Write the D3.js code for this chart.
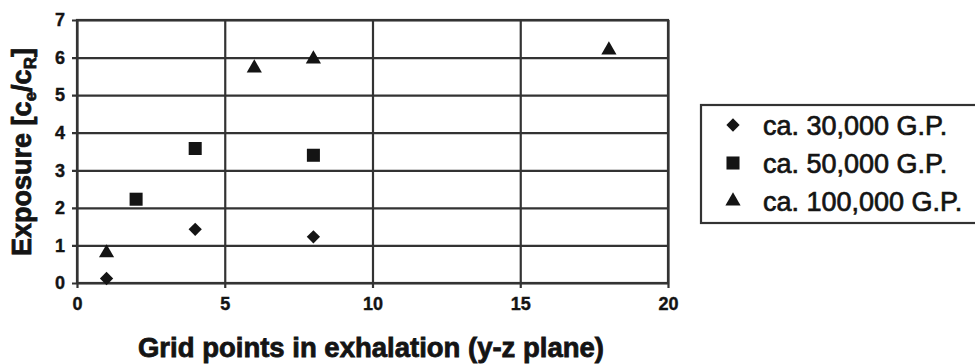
<!DOCTYPE html>
<html>
<head>
<meta charset="utf-8">
<script src="https://cdn.jsdelivr.net/npm/d3@7"></script>
<style>
  html, body { margin: 0; padding: 0; background: #fff; }
  svg { display: block; font-family: "Liberation Sans", Arial, sans-serif; }
</style>
</head>
<body>
<figure id="chart" style="margin:0"></figure>
<script>
// values
const xTicks = [0, 5, 10, 15, 20];
const yTicks = [0, 1, 2, 3, 4, 5, 6, 7];
const seriesNames = ['ca. 30,000 G.P.', 'ca. 50,000 G.P.', 'ca. 100,000 G.P.'];
const gp30x = [1, 4, 8];
const gp30y = [0.12, 1.43, 1.23];
const gp50x = [2, 4, 8];
const gp50y = [2.23, 3.58, 3.4];
const gp100x = [1, 6, 8, 18];
const gp100y = [0.8, 5.72, 5.96, 6.2];

const width = 975;
const height = 364;
const lineColor = '#333';
const inkColor = '#141414';

const series = [
  {name: seriesNames[0], xs: gp30x, ys: gp30y, shape: 'diamond'},
  {name: seriesNames[1], xs: gp50x, ys: gp50y, shape: 'square'},
  {name: seriesNames[2], xs: gp100x, ys: gp100y, shape: 'triangle'}
];

const x = d3.scaleLinear().domain([0, 20]).range([77, 668]);
const y = d3.scaleLinear().domain([0, 7]).range([283, 20]);

const svg = d3.select('figure#chart')
  .append('svg')
  .attr('width', width)
  .attr('height', height)
  .attr('viewBox', `0 0 ${width} ${height}`);

function symbolPath(shape) {
  if (shape === 'diamond') {
    return d3.symbol().type(d3.symbolSquare).size(88)();
  }
  if (shape === 'square') {
    return d3.symbol().type(d3.symbolSquare).size(170)();
  }
  return d3.symbol().type(d3.symbolTriangle).size(100)();
}

// horizontal grid lines + y axis
const yAxis = d3.axisLeft(y)
  .tickValues(yTicks)
  .tickSize(-(x.range()[1] - x.range()[0]))
  .tickPadding(12)
  .tickFormat(d3.format('d'));

svg.append('g')
  .attr('transform', `translate(${x.range()[0]},0)`)
  .call(yAxis)
  .call(g => g.select('.domain').remove())
  .call(g => g.selectAll('.tick line')
    .attr('x1', -5)
    .attr('stroke', lineColor)
    .attr('stroke-width', 2.2))
  .call(g => g.selectAll('.tick text')
    .attr('fill', inkColor)
    .attr('stroke', inkColor)
    .attr('stroke-width', 0.4)
    .attr('font-size', 18)
    .attr('font-weight', 'bold'));

// vertical grid lines + x axis
const xAxis = d3.axisBottom(x)
  .tickValues(xTicks)
  .tickSize(-(y.range()[0] - y.range()[1]))
  .tickPadding(14)
  .tickFormat(d3.format('d'));

svg.append('g')
  .attr('transform', `translate(0,${y.range()[0]})`)
  .call(xAxis)
  .call(g => g.select('.domain').remove())
  .call(g => g.selectAll('.tick line')
    .attr('y1', 5)
    .attr('stroke', lineColor)
    .attr('stroke-width', 2.2))
  .call(g => g.selectAll('.tick text')
    .attr('fill', inkColor)
    .attr('stroke', inkColor)
    .attr('stroke-width', 0.4)
    .attr('font-size', 18)
    .attr('font-weight', 'bold'));

// plot frame
svg.append('rect')
  .attr('x', x.range()[0])
  .attr('y', y.range()[1])
  .attr('width', x.range()[1] - x.range()[0])
  .attr('height', y.range()[0] - y.range()[1])
  .attr('fill', 'none')
  .attr('stroke', lineColor)
  .attr('stroke-width', 2.2);

// markers
series.forEach(s => {
  svg.append('g')
    .selectAll('path')
    .data(s.xs.map((v, i) => [v, s.ys[i]]))
    .enter().append('path')
    .attr('d', symbolPath(s.shape))
    .attr('fill', inkColor)
    .attr('transform', d => `translate(${x(d[0])},${y(d[1])})${s.shape === 'diamond' ? ' rotate(45)' : ''}`);
});

// axis titles
svg.append('text')
  .attr('x', 371)
  .attr('y', 357)
  .attr('text-anchor', 'middle')
  .attr('font-size', 27.5)
  .attr('font-weight', 'bold')
  .attr('fill', inkColor)
  .attr('stroke', inkColor)
  .attr('stroke-width', 0.8)
  .text('Grid points in exhalation (y-z plane)');

const yTitle = svg.append('text')
  .attr('transform', 'translate(31,152) rotate(-90)')
  .attr('text-anchor', 'middle')
  .attr('font-size', 27)
  .attr('font-weight', 'bold')
  .attr('fill', inkColor)
  .attr('stroke', inkColor)
  .attr('stroke-width', 0.8);
yTitle.append('tspan').text('Exposure [c');
yTitle.append('tspan').attr('font-size', 17).attr('dy', 5).text('e');
yTitle.append('tspan').attr('dy', -5).text('/c');
yTitle.append('tspan').attr('font-size', 17).attr('dy', 5).text('R');
yTitle.append('tspan').attr('dy', -5).text(']');

// legend
const legend = svg.append('g');
legend.append('rect')
  .attr('x', 701)
  .attr('y', 105)
  .attr('width', 290)
  .attr('height', 118)
  .attr('fill', '#fff')
  .attr('stroke', lineColor)
  .attr('stroke-width', 2.2);

const rows = legend.selectAll('.legend-row')
  .data(series)
  .enter().append('g')
  .attr('class', 'legend-row')
  .attr('transform', (d, i) => `translate(733,${125 + i * 38})`);

rows.append('path')
  .attr('d', d => symbolPath(d.shape))
  .attr('fill', inkColor)
  .attr('transform', d => d.shape === 'diamond' ? 'rotate(45)' : null);

rows.append('text')
  .attr('x', 30)
  .attr('y', 10)
  .attr('font-size', 27)
  .attr('fill', inkColor)
  .attr('stroke', inkColor)
  .attr('stroke-width', 0.7)
  .text(d => d.name);
</script>
</body>
</html>
